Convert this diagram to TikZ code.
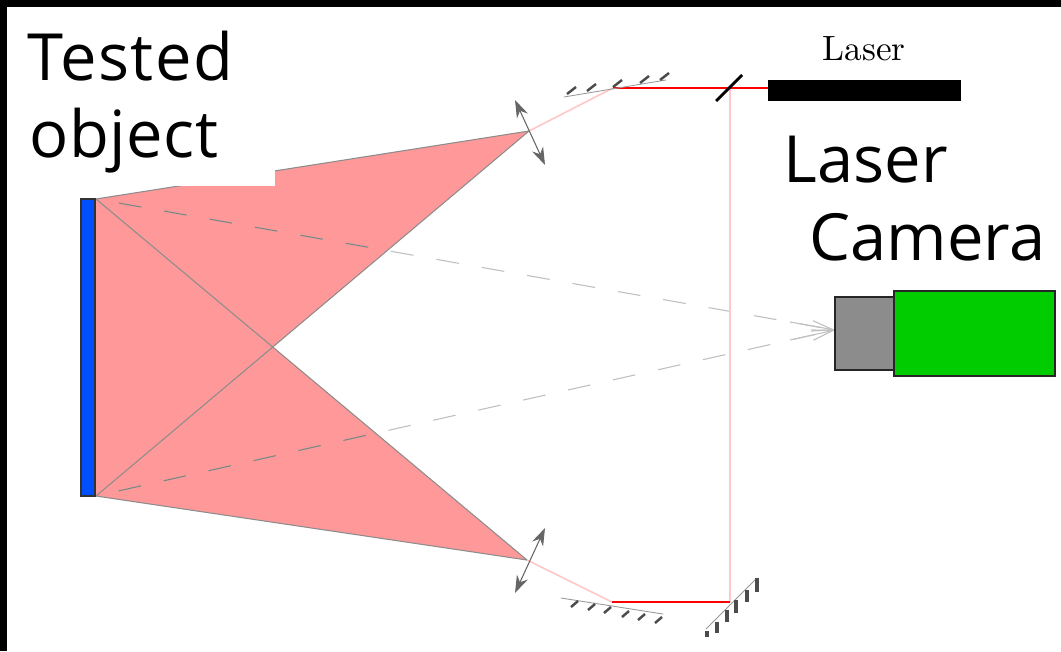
\documentclass[tikz,border=0pt]{standalone}
\usepackage{fontspec}
\newfontfamily\labelfont{Open Sans}
\usetikzlibrary{arrows.meta}
\definecolor{beampink}{HTML}{FF9999}
\definecolor{objblue}{HTML}{0050FF}
\definecolor{camgreen}{HTML}{00CC00}
\tikzset{
    bigtext/.style={anchor=base west, inner sep=0pt, font=\labelfont\fontsize{18.5}{22}\selectfont},
    fullbeam/.style={red, line width=0.35pt},
    faintbeam/.style={red!22, line width=0.45pt},
    edgeline/.style={black!45, line width=0.3pt},
    sightline/.style={dash pattern=on 6.5pt off 6.6pt, dash phase=6.5pt, line width=0.3pt},
    mirrorbase/.style={black!40, line width=0.25pt},
    hatchline/.style={black!70, line width=0.7pt},
    lensarrow/.style={{Stealth[length=5pt,width=3.4pt]}-{Stealth[length=5pt,width=3.4pt]}, black!60, line width=0.3pt}
}
\begin{document}
\begin{tikzpicture}[x=0.01cm, y=-0.01cm]
    \useasboundingbox (0,0) rectangle (1061,651);

    % Frame
    \fill[black] (0,0) rectangle (1061,651);
    \fill[white] (7,7) rectangle (1061,651);

    % Beam points
    \coordinate (objtop) at (96,199);
    \coordinate (objbot) at (96,496);
    \coordinate (cross) at (273,347);
    \coordinate (lenstop) at (529,131);
    \coordinate (lensbot) at (527,560);
    \coordinate (camfront) at (835,330);
    \coordinate (mirtop) at (613,88);
    \coordinate (mirbot) at (612,602);
    \coordinate (mircorner) at (730,602);
    \coordinate (split) at (730,88);
    \coordinate (laserend) at (768,88);

    % Illuminated area
    \fill[beampink] (objtop) -- (lenstop) -- (cross) -- (lensbot) -- (objbot) -- cycle;
    \draw[edgeline] (objtop) -- (lenstop);
    \draw[edgeline] (objbot) -- (lenstop);
    \draw[edgeline] (objtop) -- (lensbot);
    \draw[edgeline] (objbot) -- (lensbot);

    % Sight lines
    \draw[sightline, black!25] (objtop) -- (camfront);
    \draw[sightline, black!25] (objbot) -- (camfront);
    \draw[black!25, line width=0.3pt, {Straight Barb[length=6pt,width=3pt]}-] (camfront) -- ++(-45,-8);
    \draw[black!25, line width=0.3pt, {Straight Barb[length=6pt,width=3pt]}-] (camfront) -- ++(-45,10);
    \begin{scope}
        \clip (objtop) -- (lenstop) -- (cross) -- (lensbot) -- (objbot) -- cycle;
        \draw[sightline, black!50] (objtop) -- (camfront);
        \draw[sightline, black!50] (objbot) -- (camfront);
    \end{scope}

    % Patch behind the text
    \fill[white] (170,100) rectangle (275,186);

    % Laser beam
    \draw[faintbeam] (split) -- (mircorner);
    \draw[faintbeam] (mirtop) -- (lenstop);
    \draw[faintbeam] (mirbot) -- (lensbot);
    \draw[fullbeam] (laserend) -- (mirtop);
    \draw[fullbeam] (mircorner) -- (mirbot);

    % Laser and beam splitter
    \fill[black] (768,80) rectangle (961,101);
    \coordinate (splita) at (716,101);
    \coordinate (splitb) at (742,75);
    \draw[black, line width=0.8pt] (splita) -- (splitb);
    \node[inner sep=0pt, font=\fontsize{10}{12}\selectfont] (lasertxt) at (864,49) {Laser};

    % Mirror top
    \coordinate (mta) at (564,97);
    \coordinate (mtb) at (666,80);
    \draw[mirrorbase] (mta) -- (mtb);
    \foreach \x/\y in {567/94, 587/91, 613/87, 640/83, 660/80}
        \draw[hatchline] (\x,\y) -- ++(9,-7);

    % Mirror bottom
    \coordinate (mba) at (561,598);
    \coordinate (mbb) at (663,614);
    \draw[mirrorbase] (mba) -- (mbb);
    \foreach \x/\y in {571/607, 588/610, 604/613, 622/617, 638/620, 655/623}
        \draw[hatchline] (\x,\y) -- ++(7,-6);

    % Mirror corner
    \coordinate (mca) at (706,629);
    \coordinate (mcb) at (757,578);
    \draw[mirrorbase] (mca) -- (mcb);
    \foreach \x/\y/\h in {707/637/6, 717/633/11, 727/622/12, 736/613/13, 747/602/12, 757/592/14}
        \draw[hatchline, line width=0.9pt] (\x,\y) -- ++(0,-\h);

    % Lenses
    \coordinate (lta) at (515,100);
    \coordinate (ltb) at (545,165);
    \coordinate (lba) at (545,528);
    \coordinate (lbb) at (515,593);
    \draw[lensarrow] (lta) -- (ltb);
    \draw[lensarrow] (lba) -- (lbb);

    % Tested object
    \draw[black!80, fill=objblue, line width=0.4pt] (81,199) rectangle (95,496);

    % Camera
    \draw[black!85, fill=black!45, line width=0.4pt] (835,297) rectangle (894,370);
    \draw[black!85, fill=camgreen, line width=0.4pt] (894,291) rectangle (1055,376);

    % Labels
    \node[bigtext] (testedtxt) at (27,80) {\addfontfeature{LetterSpace=2.2}Tested};
    \node[bigtext] (objecttxt) at (29,157) {\addfontfeature{LetterSpace=0.8}object};
    \node[bigtext] (lasertwo) at (783,182) {Laser};
    \node[bigtext] (cameratxt) at (809,260) {Camera};
\end{tikzpicture}
\end{document}
